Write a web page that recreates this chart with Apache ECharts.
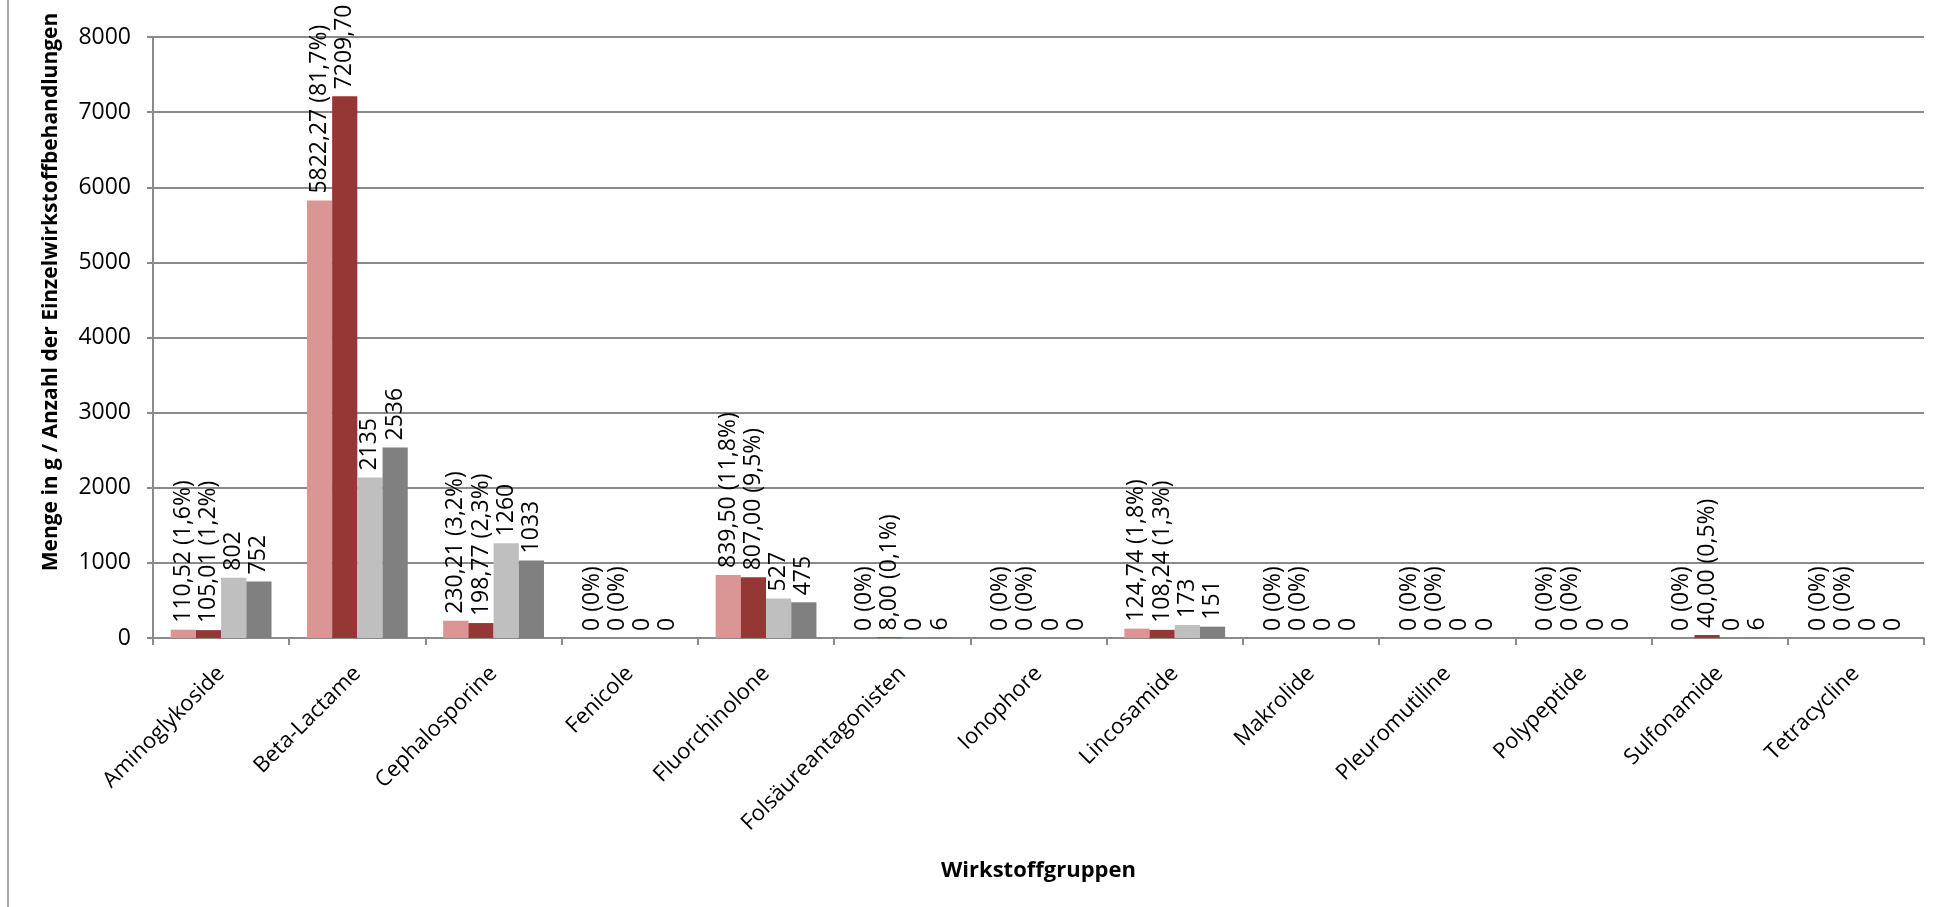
<!DOCTYPE html>
<html>
<head>
<meta charset="utf-8">
<script src="https://cdn.jsdelivr.net/npm/echarts@6/dist/echarts.min.js"></script>
<style>
html,body{margin:0;padding:0;background:#fff;}
#chart{width:1950px;height:907px;}
</style>
</head>
<body>
<div id="chart"></div>
<script>
const categories = ['Aminoglykoside','Beta-Lactame','Cephalosporine','Fenicole','Fluorchinolone','Folsäureantagonisten','Ionophore','Lincosamide','Makrolide','Pleuromutiline','Polypeptide','Sulfonamide','Tetracycline'];
const mengeA = [110.52, 5822.27, 230.21, 0, 839.50, 0, 0, 124.74, 0, 0, 0, 0, 0];
const mengeB = [105.01, 7209.70, 198.77, 0, 807.00, 8.00, 0, 108.24, 0, 0, 0, 40.00, 0];
const anzahlA = [802, 2135, 1260, 0, 527, 0, 0, 173, 0, 0, 0, 0, 0];
const anzahlB = [752, 2536, 1033, 0, 475, 6, 0, 151, 0, 0, 0, 6, 0];
const yTicks = [0, 1000, 2000, 3000, 4000, 5000, 6000, 7000, 8000];

const FONT = '"Open Sans", "Noto Sans", sans-serif';
const GRID = '#8a8a8a';

function pctFormatter(arr) {
  const total = arr.reduce((a, b) => a + b, 0);
  return function (p) {
    const v = p.value;
    if (v === 0) return '0 (0%)';
    const pct = (v / total * 100).toFixed(1).replace('.', ',');
    return v.toFixed(2).replace('.', ',') + ' (' + pct + '%)';
  };
}

const labelBase = {
  show: true,
  position: 'top',
  rotate: 90,
  align: 'left',
  verticalAlign: 'middle',
  distance: 7,
  fontFamily: FONT,
  fontSize: 23,
  color: '#000'
};

const chart = echarts.init(document.getElementById('chart'));
chart.setOption({
  animation: false,
  grid: { left: 153, right: 26, top: 37, bottom: 269, containLabel: false },
  graphic: [
    { type: 'line', shape: { x1: 8, y1: 0, x2: 8, y2: 907 }, style: { stroke: '#8a8a8a', lineWidth: 1.5 } },
    {
      type: 'text', x: 51, y: 292, rotation: Math.PI / 2,
      style: {
        text: 'Menge in g / Anzahl der Einzelwirkstoffbehandlungen',
        font: 'bold 21px ' + FONT, fill: '#000',
        textAlign: 'center', textVerticalAlign: 'middle'
      }
    }
  ],
  xAxis: {
    type: 'category',
    data: categories,
    name: 'Wirkstoffgruppen',
    nameLocation: 'middle',
    nameGap: 222,
    nameTextStyle: { fontFamily: FONT, fontSize: 22, fontWeight: 'bold', color: '#000' },
    axisLine: { lineStyle: { color: GRID, width: 2 } },
    axisTick: { show: true, length: 7, lineStyle: { color: GRID, width: 2 } },
    axisLabel: { rotate: 45, margin: 32, fontFamily: FONT, fontSize: 22, color: '#000', interval: 0 }
  },
  yAxis: {
    type: 'value',
    min: yTicks[0],
    max: yTicks[yTicks.length - 1],
    interval: 1000,
    axisLine: { show: true, lineStyle: { color: GRID, width: 2 } },
    axisTick: { show: true, length: 6, lineStyle: { color: GRID, width: 2 } },
    splitLine: { lineStyle: { color: GRID, width: 2 } },
    axisLabel: { margin: 22, fontFamily: FONT, fontSize: 23, color: '#000', formatter: function (v) { return String(v); } }
  },
  series: [
    { name: 'Menge in g (A)', type: 'bar', data: mengeA, barGap: '0%', barCategoryGap: '26%',
      itemStyle: { color: '#D99694' },
      label: Object.assign({}, labelBase, { formatter: pctFormatter(mengeA) }) },
    { name: 'Menge in g (B)', type: 'bar', data: mengeB, barGap: '0%', barCategoryGap: '26%',
      itemStyle: { color: '#953735' },
      label: Object.assign({}, labelBase, { formatter: pctFormatter(mengeB) }) },
    { name: 'Anzahl (A)', type: 'bar', data: anzahlA, barGap: '0%', barCategoryGap: '26%',
      itemStyle: { color: '#BFBFBF' },
      label: Object.assign({}, labelBase, { formatter: '{c}' }) },
    { name: 'Anzahl (B)', type: 'bar', data: anzahlB, barGap: '0%', barCategoryGap: '26%',
      itemStyle: { color: '#808080' },
      label: Object.assign({}, labelBase, { formatter: '{c}' }) }
  ]
});
</script>
</body>
</html>
